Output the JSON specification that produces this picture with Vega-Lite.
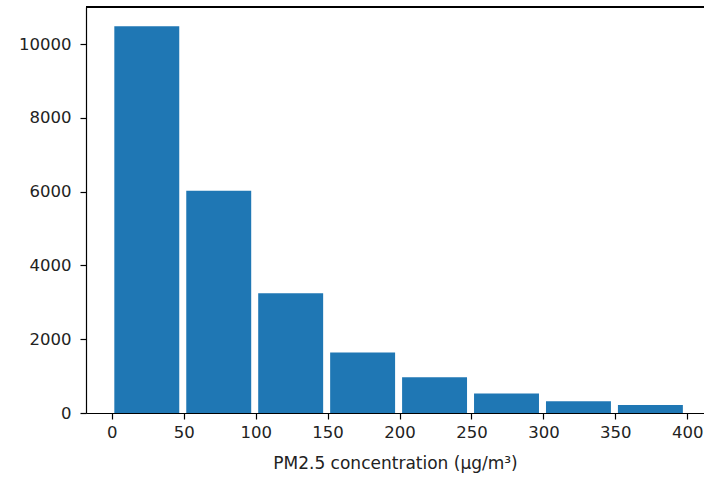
{
  "$schema": "https://vega.github.io/schema/vega-lite/v6.json",
  "autosize": "none",
  "width": 618,
  "height": 406,
  "padding": {"left": 86, "top": 7, "right": 0, "bottom": 64},
  "background": "white",
  "config": {
    "view": {"stroke": null},
    "font": "DejaVu Sans",
    "axis": {
      "grid": false,
      "domainColor": "#000000",
      "domainWidth": 1.2,
      "tickColor": "#000000",
      "tickWidth": 1.2,
      "tickSize": 6,
      "labelFont": "DejaVu Sans",
      "labelFontSize": 16.5,
      "labelColor": "#222222",
      "titleFont": "DejaVu Sans",
      "titleFontSize": 17,
      "titleFontWeight": "normal",
      "titleColor": "#222222"
    }
  },
  "data": {
    "values": [
      {"bin_start": -1, "bin_end": 49, "count": 10490},
      {"bin_start": 49, "bin_end": 99, "count": 6030},
      {"bin_start": 99, "bin_end": 149, "count": 3250},
      {"bin_start": 149, "bin_end": 199, "count": 1640},
      {"bin_start": 199, "bin_end": 249, "count": 970},
      {"bin_start": 249, "bin_end": 299, "count": 530},
      {"bin_start": 299, "bin_end": 349, "count": 320},
      {"bin_start": 349, "bin_end": 399, "count": 215}
    ]
  },
  "layer": [
    {
      "mark": {"type": "bar", "color": "#1f77b4", "binSpacing": 7},
      "encoding": {
        "x": {
          "field": "bin_start",
          "bin": "binned",
          "type": "quantitative",
          "scale": {"domain": [-17.9, 411.6], "nice": false, "zero": false},
          "axis": {
            "values": [0, 50, 100, 150, 200, 250, 300, 350, 400],
            "format": "d",
            "title": "PM2.5 concentration (μg/m³)",
            "labelPadding": 5,
            "titlePadding": 15,
            "labelFlush": false
          }
        },
        "x2": {"field": "bin_end"},
        "y": {
          "field": "count",
          "type": "quantitative",
          "scale": {"domain": [0, 11010], "nice": false},
          "axis": {
            "values": [0, 2000, 4000, 6000, 8000, 10000],
            "format": "d",
            "title": null,
            "labelPadding": 9,
            "labelFlush": false
          }
        }
      }
    },
    {
      "mark": {"type": "rule", "color": "#000000", "strokeWidth": 1.2},
      "encoding": {"y": {"datum": 11010, "type": "quantitative"}}
    }
  ]
}
